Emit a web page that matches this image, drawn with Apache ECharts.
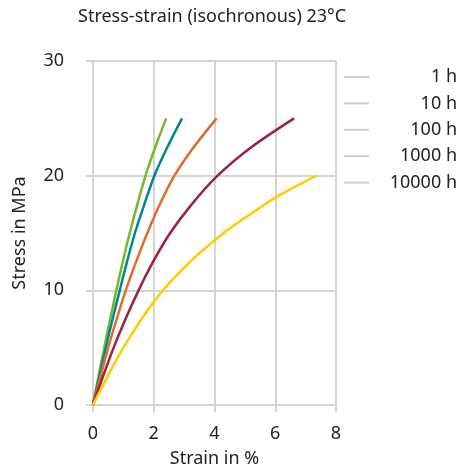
<!DOCTYPE html>
<html>
<head>
<meta charset="utf-8">
<script src="https://cdn.jsdelivr.net/npm/echarts@6/dist/echarts.min.js"></script>
<style>html,body{margin:0;padding:0;background:#fff}#c{width:462px;height:473px}</style>
</head>
<body>
<div id="c"></div>
<script>
const seriesNames = ['1 h', '10 h', '100 h', '1000 h', '10000 h'];
const colors = ['#78b82a', '#00878f', '#e06c2c', '#9b2242', '#ffcc00'];
const strain1h = [0, 0.18, 0.37, 0.565, 0.77, 0.98, 1.21, 1.46, 1.73, 2.05, 2.41];
const stress1h = [0, 2.5, 5, 7.5, 10, 12.5, 15, 17.5, 20, 22.5, 25];
const strain10h = [0, 0.21, 0.42, 0.645, 0.88, 1.12, 1.38, 1.69, 2.02, 2.45, 2.93];
const stress10h = [0, 2.5, 5, 7.5, 10, 12.5, 15, 17.5, 20, 22.5, 25];
const strain100h = [0, 0.25, 0.5, 0.78, 1.08, 1.42, 1.79, 2.2, 2.68, 3.32, 4.07];
const stress100h = [0, 2.5, 5, 7.5, 10, 12.5, 15, 17.5, 20, 22.5, 25];
const strain1000h = [0, 0.33, 0.68, 1.07, 1.5, 1.98, 2.54, 3.25, 4.1, 5.22, 6.62];
const stress1000h = [0, 2.5, 5, 7.5, 10, 12.5, 15, 17.5, 20, 22.5, 25];
const strain10000h = [0, 0.48, 1.0, 1.6, 2.3, 3.2, 4.3, 5.1, 5.95, 6.63, 7.36];
const stress10000h = [0, 2.5, 5, 7.5, 10, 12.5, 15, 16.5, 18, 19, 20];
const xTicks = [0, 2, 4, 6, 8];
const yTicks = [0, 10, 20, 30];

const strains = [strain1h, strain10h, strain100h, strain1000h, strain10000h];
const stresses = [stress1h, stress10h, stress100h, stress1000h, stress10000h];
const FONT = 'Noto Sans';
const GRID = '#d4d4d4';

const chart = echarts.init(document.getElementById('c'));
chart.setOption({
  animation: false,
  backgroundColor: '#fff',
  title: {
    text: 'Stress-strain (isochronous) 23°C',
    left: 73, top: 3,
    textStyle: {fontFamily: FONT, fontSize: 18, fontWeight: 'normal', color: '#222'}
  },
  legend: {
    orient: 'vertical',
    right: 0, top: 63,
    icon: 'rect',
    itemWidth: 25, itemHeight: 2,
    itemGap: 8.4,
    itemTextGap: 5,
    itemStyle: {color: '#cccccc', borderWidth: 0},
    lineStyle: {color: '#cccccc'},
    data: seriesNames,
    formatter: n => '{a|' + n + '}',
    textStyle: {
      fontFamily: FONT, fontSize: 18, color: '#222',
      rich: {a: {width: 83, align: 'right', fontFamily: FONT, fontSize: 18, lineHeight: 18, color: '#222'}}
    }
  },
  grid: {left: 93, right: 126, top: 61, bottom: 68},
  xAxis: {
    type: 'value', min: 0, max: 8, interval: 2,
    name: 'Strain in %', nameLocation: 'middle', nameGap: 45,
    nameTextStyle: {fontFamily: FONT, fontSize: 18, color: '#222'},
    axisLine: {show: true, lineStyle: {color: GRID, width: 2}},
    axisTick: {show: true, length: 7, lineStyle: {color: GRID, width: 2}},
    axisLabel: {fontFamily: FONT, fontSize: 18, color: '#222', margin: 20,
      formatter: v => xTicks.includes(v) ? String(v) : ''},
    splitLine: {show: true, lineStyle: {color: GRID, width: 2}}
  },
  yAxis: {
    type: 'value', min: 0, max: 30, interval: 10,
    name: 'Stress in MPa', nameLocation: 'middle', nameGap: 64,
    nameTextStyle: {fontFamily: FONT, fontSize: 18, color: '#222'},
    axisLine: {show: true, lineStyle: {color: GRID, width: 2}},
    axisTick: {show: true, length: 7, lineStyle: {color: GRID, width: 2}},
    axisLabel: {fontFamily: FONT, fontSize: 18, color: '#222', margin: 29,
      formatter: v => yTicks.includes(v) ? String(v) : ''},
    splitLine: {show: true, lineStyle: {color: GRID, width: 2}}
  },
  series: seriesNames.map((name, i) => ({
    name: name,
    type: 'line',
    smooth: 0.3,
    showSymbol: false,
    symbol: 'none',
    color: colors[i],
    lineStyle: {color: colors[i], width: 2.5},
    data: strains[i].map((x, j) => [x, stresses[i][j]])
  }))
});
</script>
</body>
</html>
